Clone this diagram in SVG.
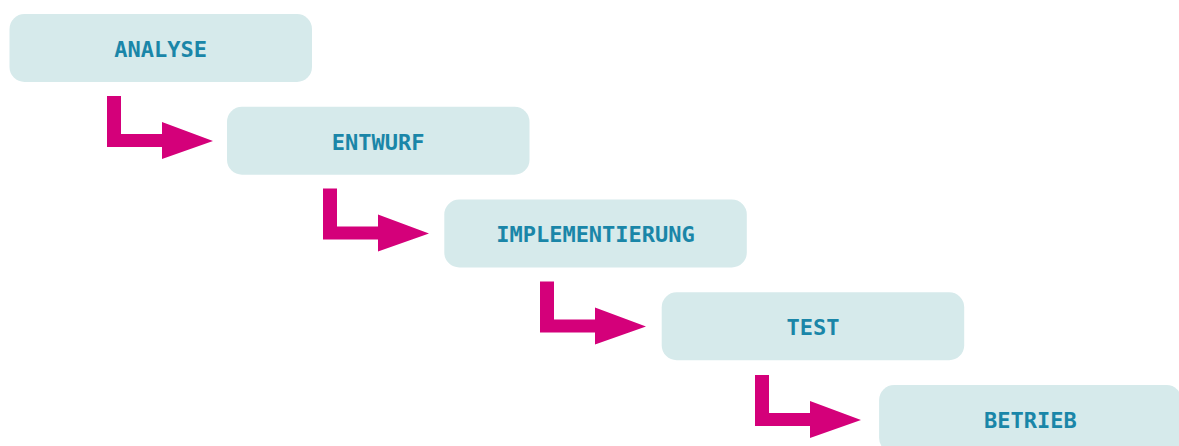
<svg xmlns="http://www.w3.org/2000/svg" width="1179" height="446" viewBox="0 0 1179 446">
<style>
.box{fill:#d6eaeb}
.lbl{font-family:"DejaVu Sans Mono","Liberation Mono",monospace;font-weight:bold;font-size:22px;fill:#1a86a8;text-anchor:middle}
.arr{fill:#d4007a}
</style>
<defs>
<polygon id="arrow" class="arr" points="107,96 121,96 121,134 162,134 162,122 213,141 162,159 162,147 107,147"/>
</defs>
<rect width="1179" height="446" fill="#ffffff"/>
<g id="connectors">
<use href="#arrow"/>
<use href="#arrow" transform="translate(216,92.5)"/>
<use href="#arrow" transform="translate(433,185.5)"/>
<use href="#arrow" transform="translate(648,279)"/>
</g>
<g id="analyse"><rect class="box" x="9.5" y="14" width="302.5" height="68" rx="15"/><text class="lbl" x="160.7" y="56.8">ANALYSE</text></g>
<g id="entwurf"><rect class="box" x="227" y="106.75" width="302.5" height="68" rx="15"/><text class="lbl" x="378.2" y="149.5">ENTWURF</text></g>
<g id="implementierung"><rect class="box" x="444.3" y="199.5" width="302.5" height="68" rx="15"/><text class="lbl" x="595.5" y="242.3">IMPLEMENTIERUNG</text></g>
<g id="test"><rect class="box" x="661.7" y="292.25" width="302.5" height="68" rx="15"/><text class="lbl" x="812.9" y="335">TEST</text></g>
<g id="betrieb"><rect class="box" x="879.1" y="385" width="302.5" height="68" rx="15"/><text class="lbl" x="1030.3" y="427.8">BETRIEB</text></g>
</svg>
